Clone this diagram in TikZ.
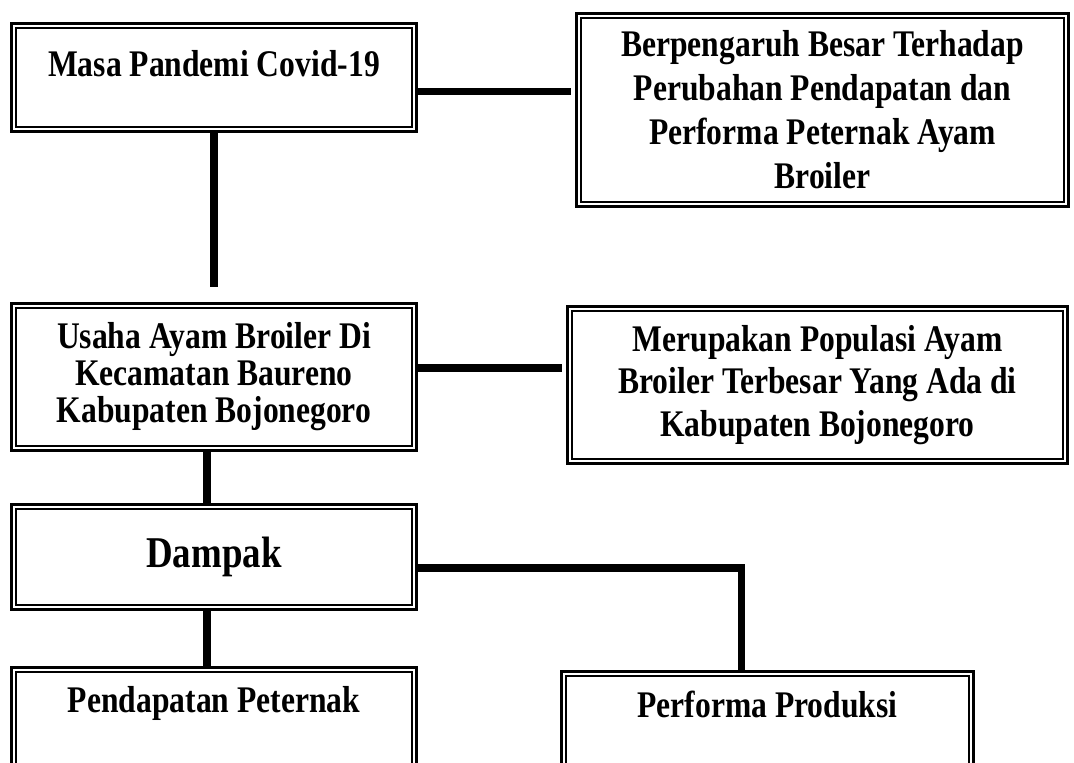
\documentclass[tikz,border=0pt]{standalone}
\usepackage{fontspec}
\setmainfont[FakeStretch=0.84]{Liberation Serif}
\usepackage{tikz}
\usetikzlibrary{positioning}

\begin{document}
\begin{tikzpicture}[
  box/.style={draw, line width=1.7pt, minimum width=8.1cm, inner xsep=4pt, inner ysep=0pt, align=center,
    font=\fontsize{21.4}{25}\selectfont\bfseries,
    path picture={\draw[line width=0.8pt]
      ([shift={(2.6pt,2.6pt)}]path picture bounding box.south west) rectangle
      ([shift={(-2.6pt,-2.6pt)}]path picture bounding box.north east);}},
  link/.style={line width=4.5pt},
]
\useasboundingbox (0,0) rectangle (21.48,-15.24);

\node[box, anchor=north west, text height=1.06cm, text depth=1.1cm] (masa) at (0.2,-0.44) {Masa Pandemi Covid-19};
\node[box, anchor=north west, minimum width=9.84cm, minimum height=3.86cm] (berp) at (11.5,-0.24)
  {Berpengaruh Besar Terhadap\\Perubahan Pendapatan dan\\Performa Peternak Ayam\\Broiler};
\node[box, below=3.38cm of masa, minimum height=2.94cm, font=\fontsize{21.4}{21}\selectfont\bfseries] (usaha)
  {Usaha Ayam Broiler Di\\Kecamatan Baureno\\Kabupaten Bojonegoro};
\node[box, anchor=north west, minimum width=10cm, minimum height=3.14cm, font=\fontsize{21.4}{24}\selectfont\bfseries] (merup) at (11.32,-6.1)
  {Merupakan Populasi Ayam\\Broiler Terbesar Yang Ada di\\Kabupaten Bojonegoro};
\node[box, below=1.02cm of usaha, minimum height=2.1cm, font=\fontsize{25}{28}\selectfont\bfseries] (dampak) {Dampak};
\node[box, below=1.1cm of dampak, text height=0.9cm, text depth=1.7cm] (pend) {Pendapatan Peternak};
\node[box, anchor=north west, minimum width=8.24cm, text height=0.92cm, text depth=1.68cm] (perf) at (11.2,-13.4) {Performa Produksi};

% penghubung
\coordinate (m1) at ([yshift=-0.28cm]masa.east);
\draw[link, shorten >=2pt] (m1) -- (m1 -| berp.west);
\draw[link] (masa.south) -- ([yshift=0.3cm]usaha.north);
\coordinate (u1) at ([yshift=0.18cm]usaha.east);
\draw[link, shorten >=2pt] (u1) -- (u1 -| merup.west);
\draw[link] ([xshift=-0.14cm]usaha.south) -- ([xshift=-0.14cm]dampak.north);
\coordinate (d1) at ([yshift=-0.22cm]dampak.east);
\draw[link] (d1) -| ([xshift=-0.52cm]perf.north);
\draw[link] ([xshift=-0.14cm]dampak.south) -- ([xshift=-0.14cm]pend.north);

\end{tikzpicture}
\end{document}
